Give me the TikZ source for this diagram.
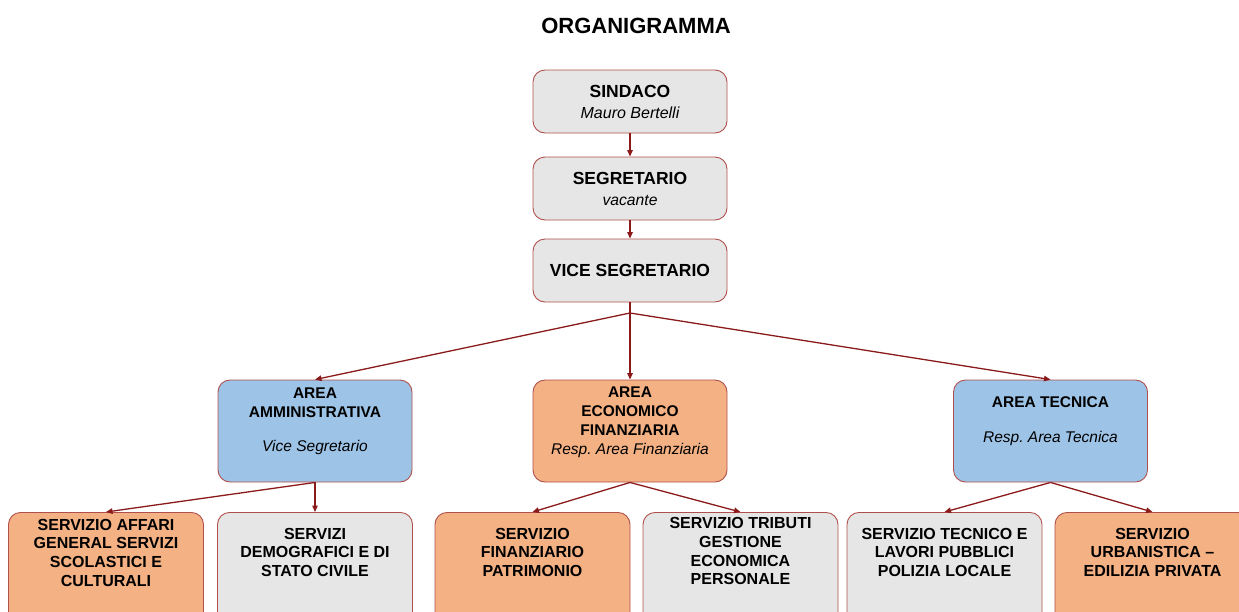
\documentclass[tikz,border=0pt]{standalone}
\usepackage{fontspec}
\setmainfont{Liberation Sans}
\usetikzlibrary{arrows.meta}
\definecolor{boxgray}{HTML}{E6E6E6}
\definecolor{boxblue}{HTML}{9DC3E6}
\definecolor{boxorange}{HTML}{F4B183}
\definecolor{boxline}{HTML}{B0504C}
\definecolor{arrowred}{HTML}{8B1A1A}
\frenchspacing
\newcommand{\boxlines}[3]{\parbox[c][#1][t]{180pt}{\centering\vspace*{#2}#3}}
\tikzset{
  orgbox/.style={draw=boxline,line width=0.9pt,rounded corners=12pt,inner sep=0pt},
  topbox/.style={orgbox,fill=boxgray,align=center,minimum width=194pt,minimum height=63pt,font=\fontsize{17.5}{21}\selectfont},
  areabox/.style={orgbox,minimum width=194pt,font=\fontsize{15.5}{19}\selectfont},
  svcbox/.style={orgbox,anchor=north,minimum width=195pt,font=\fontsize{16}{18.7}\selectfont},
  link/.style={draw=arrowred,line width=1.3pt,-{Triangle[length=6.5pt,width=5.5pt]}},
}
\begin{document}
\begin{tikzpicture}[x=1pt,y=-1pt]
\useasboundingbox (0,0) rectangle (1239,611);
\clip (0,0) rectangle (1239,611);
\node[font=\fontsize{22}{26}\selectfont\bfseries] (title) at (636,26) {ORGANIGRAMMA};
\node[topbox] (sindaco) at (630,101.5) {{\bfseries SINDACO}\\{\itshape\fontsize{16}{21}\selectfont Mauro Bertelli}};
\node[topbox] (segretario) at (630,188.5) {{\bfseries SEGRETARIO}\\{\itshape\fontsize{15.7}{21}\selectfont vacante}};
\node[topbox] (vice) at (630,270.5) {\bfseries VICE SEGRETARIO};
\node[areabox,fill=boxblue] (amm) at (315,431) {\boxlines{102pt}{8pt}{\bfseries AREA\\AMMINISTRATIVA\\[15pt]\mdseries\itshape Vice Segretario}};
\node[areabox,fill=boxorange] (econ) at (630,431) {\boxlines{102pt}{7pt}{\bfseries AREA\\ECONOMICO\\FINANZIARIA\\\mdseries\itshape Resp. Area Finanziaria}};
\node[areabox,fill=boxblue] (tecnica) at (1050.5,431) {\boxlines{102pt}{17pt}{\bfseries AREA TECNICA\\[16pt]\mdseries\itshape Resp. Area Tecnica}};
\node[svcbox,fill=boxorange] (affari) at (106,512) {\boxlines{130pt}{6.5pt}{\bfseries SERVIZIO AFFARI\\GENERAL SERVIZI\\SCOLASTICI E\\CULTURALI}};
\node[svcbox,fill=boxgray] (demografici) at (315,512) {\boxlines{130pt}{15.5pt}{\bfseries SERVIZI\\DEMOGRAFICI E DI\\STATO CIVILE}};
\node[svcbox,fill=boxorange] (finanziario) at (532.5,512) {\boxlines{130pt}{15.5pt}{\bfseries SERVIZIO\\FINANZIARIO\\PATRIMONIO}};
\node[svcbox,fill=boxgray] (tributi) at (740.5,512) {\boxlines{130pt}{5pt}{\bfseries SERVIZIO TRIBUTI\\GESTIONE\\ECONOMICA\\PERSONALE}};
\node[svcbox,fill=boxgray] (tecnico) at (944.5,512) {\boxlines{130pt}{15.5pt}{\bfseries SERVIZIO TECNICO E\\LAVORI PUBBLICI\\POLIZIA LOCALE}};
\node[svcbox,fill=boxorange] (urbanistica) at (1152.5,512) {\boxlines{130pt}{15.5pt}{\bfseries SERVIZIO\\URBANISTICA \textendash\\EDILIZIA PRIVATA}};
\coordinate (vsplit) at (630,313);
\draw[link] (sindaco) -- (segretario);
\draw[link] (segretario) -- (vice);
\draw[arrowred,line width=1.3pt] (vice) -- (vsplit);
\draw[link] (vsplit) -- (amm.north);
\draw[link] (vsplit) -- (econ.north);
\draw[link] (vsplit) -- (tecnica.north);
\draw[link] (amm.south) -- (affari.north);
\draw[link] (amm.south) -- (demografici.north);
\draw[link] (econ.south) -- (finanziario.north);
\draw[link] (econ.south) -- (tributi.north);
\draw[link] (tecnica.south) -- (tecnico.north);
\draw[link] (tecnica.south) -- (urbanistica.north);
\end{tikzpicture}
\end{document}
